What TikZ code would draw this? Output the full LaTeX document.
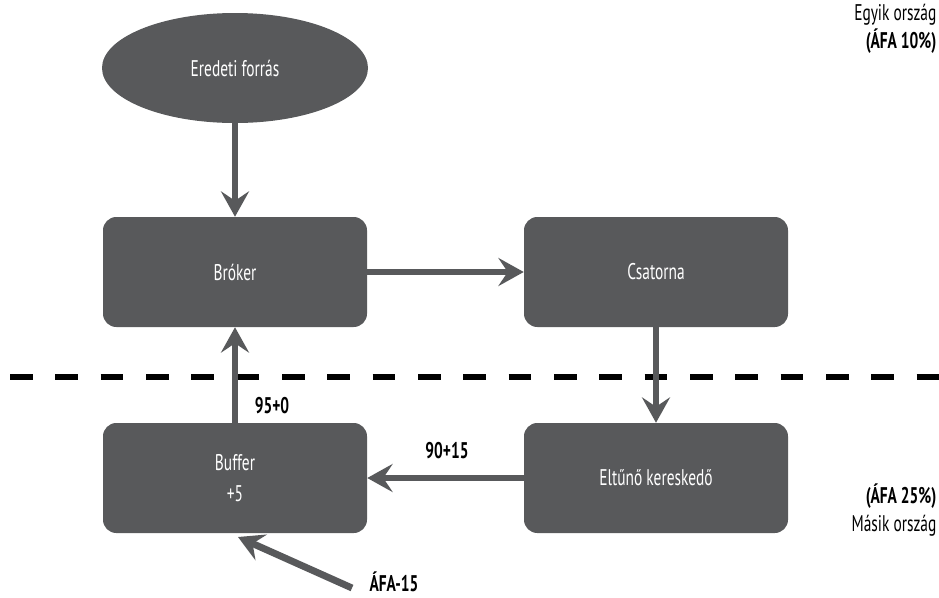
\documentclass[tikz,border=0pt]{standalone}
\usepackage{fontspec}
\setmainfont[FakeStretch=0.68]{PT Sans}
\usetikzlibrary{arrows.meta,shapes.geometric}
\definecolor{boxgray}{HTML}{58595B}
\tikzset{
  pbox/.style={draw=none,fill=boxgray,rounded corners=10pt,minimum width=198pt,minimum height=82.5pt,text=white,font=\fontsize{17}{18}\selectfont,align=center},
  flow/.style={draw=boxgray,line width=5.2pt,-{Stealth[length=19pt,width=21pt,inset=7pt]}},
  lbl/.style={font=\bfseries\fontsize{17}{18}\selectfont,text=black},
  side/.style={font=\fontsize{17}{21}\selectfont,align=right,anchor=north east,text=black,inner sep=1pt}
}
\begin{document}
\begin{tikzpicture}[x=0.75pt,y=-0.75pt]
\useasboundingbox (0,0) rectangle (939,597);
\node[ellipse,fill=boxgray,minimum width=199.5pt,minimum height=82.5pt,text=white,font=\fontsize{17}{18}\selectfont] (src) at (235,68) {Eredeti forrás};
\node[pbox] (brok) at (235,272) {Bróker};
\node[pbox] (csat) at (656,272) {Csatorna};
\node[pbox] (elt) at (656,478) {Eltűnő kereskedő};
\node[pbox] (buf) at (235,478) {Buffer\\[5pt]+5};
\coordinate (c1) at (10,377);
\coordinate (c2) at (939,377);
\draw[black,line width=4pt,dash pattern=on 17pt off 17pt] (c1) -- (c2);
\draw[flow] (src) -- (brok);
\draw[flow] (brok) -- (csat);
\draw[flow] (csat) -- (elt);
\draw[flow] (elt) -- (buf);
\draw[flow] (buf) -- (brok);
\coordinate (vt) at (352,588);
\draw[flow] (vt) -- (238,537);
\node[lbl] (l1) at (272,406) {95+0};
\node[lbl] (l2) at (447,451) {90+15};
\node[lbl] (l3) at (394,582) {ÁFA-15};
\node[side] (t1) at (938,3) {Egyik ország\\\textbf{(ÁFA 10\%)}};
\node[side] (t2) at (938,482) {\textbf{(ÁFA 25\%)}\\Másik ország};
\end{tikzpicture}
\end{document}
